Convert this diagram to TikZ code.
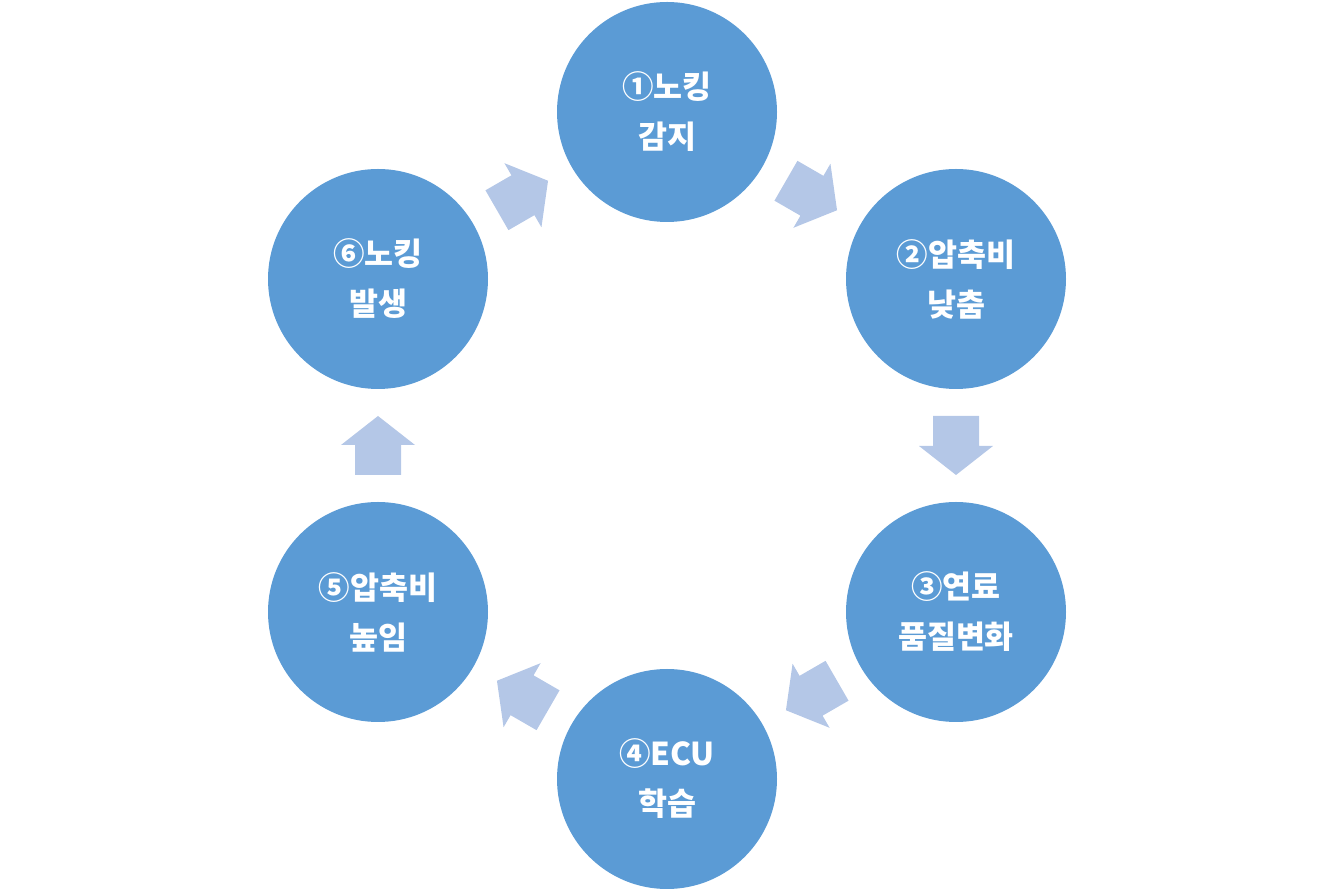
\documentclass[tikz,border=0pt]{standalone}
\usepackage{fontspec}
\newfontfamily\hangul{Noto Sans CJK KR}
\usetikzlibrary{calc}
\definecolor{stageblue}{HTML}{5B9BD5}
\definecolor{arrowblue}{HTML}{B4C7E7}
\tikzset{%
  stage/.style     = {shape=circle, fill=stageblue, inner sep=0pt,%
                      minimum size=220pt, align=center, text=white,%
                      font=\hangul\bfseries\fontsize{31.5}{50}\selectfont},%
  blockarrow/.pic  = {\fill[arrowblue] (-29.5,-23) -- (0.5,-23) -- (0.5,-37)%
                      -- (29.5,0) -- (0.5,37) -- (0.5,23) -- (-29.5,23) -- cycle;}%
}
\begin{document}
\begin{tikzpicture}[x=1pt,y=1pt]%
	\useasboundingbox (0,0) rectangle (1334,891);
	% stages of the cycle
	\node [stage] (knock)   at (667,779) {①노킹\\감지};%
	\node [stage] (lower)   at (956,612) {②압축비\\낮춤};%
	\node [stage] (fuel)    at (956,279) {③연료\\품질변화};%
	\node [stage] (ecu)     at (667,112) {④ECU\\학습};%
	\node [stage] (raise)   at (378,279) {⑤압축비\\높임};%
	\node [stage] (occur)   at (378,612) {⑥노킹\\발생};%
	% block arrows between neighbours
	\pic [rotate=-30]  at ($(knock)!0.5!(lower)$) {blockarrow};%
	\pic [rotate=-90]  at ($(lower)!0.5!(fuel)$)  {blockarrow};%
	\pic [rotate=210]  at ($(fuel)!0.5!(ecu)$)    {blockarrow};%
	\pic [rotate=150]  at ($(ecu)!0.5!(raise)$)   {blockarrow};%
	\pic [rotate=90]   at ($(raise)!0.5!(occur)$) {blockarrow};%
	\pic [rotate=30]   at ($(occur)!0.5!(knock)$) {blockarrow};%
\end{tikzpicture}
\end{document}
